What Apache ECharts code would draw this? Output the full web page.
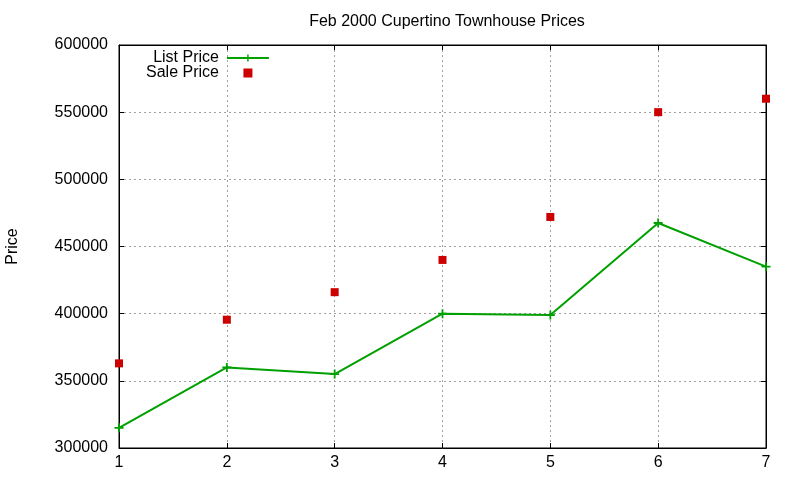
<!DOCTYPE html>
<html>
<head>
<meta charset="utf-8">
<script src="https://cdn.jsdelivr.net/npm/echarts@6/dist/echarts.min.js"></script>
<style>html,body{margin:0;padding:0;background:#fff;}#c{width:800px;height:480px;}</style>
</head>
<body>
<div id="c"></div>
<script>
var xValues = [1, 2, 3, 4, 5, 6, 7];
var listPrice = [315000, 360000, 355000, 400000, 399000, 467500, 435000];
var salePrice = [363000, 395500, 416000, 440000, 472000, 550000, 560000];
var titleText = 'Feb 2000 Cupertino Townhouse Prices';
var yName = 'Price';

var FONT = 'Liberation Sans, Arial, sans-serif';
var plus = 'path://M4,0 H6 V4 H10 V6 H6 V10 H4 V6 H0 V4 H4 Z';
var square = 'path://M0,0 H1 V1 H0 Z';
function pairs(xs, ys) { return xs.map(function (x, i) { return [x, ys[i]]; }); }

var chart = echarts.init(document.getElementById('c'), null, {renderer: 'canvas'});
var gridLine = {show: true, lineStyle: {color: '#a0a0a0', width: 1, type: [2, 3]}};
chart.setOption({
  animation: false,
  backgroundColor: '#fff',
  title: {text: titleText, left: 442, top: 9, textAlign: 'center',
    textStyle: {fontFamily: FONT, fontSize: 16, fontWeight: 'normal', color: '#000'}},
  grid: {left: 119, right: 34, top: 45, bottom: 32, show: true, borderColor: '#000', borderWidth: 1,
    backgroundColor: 'transparent', containLabel: false, outerBoundsMode: 'none'},
  legend: {
    orient: 'vertical', left: 141, top: 45, align: 'right',
    itemWidth: 42, itemHeight: 9, itemGap: -1, symbolKeepAspect: true,
    textStyle: {fontFamily: FONT, fontSize: 16, color: '#000', lineHeight: 16, padding: [0, 3, 0, 0]},
    data: ['List Price', {name: 'Sale Price', icon: square}]
  },
  xAxis: [{
    type: 'value', min: 1, max: 7, interval: 1,
    axisLine: {show: true, lineStyle: {color: '#000'}},
    axisTick: {show: true, inside: true, length: 5, lineStyle: {color: '#000'}},
    axisLabel: {fontFamily: FONT, fontSize: 16, color: '#000', margin: 7},
    splitLine: gridLine
  }, {
    type: 'value', min: 1, max: 7, interval: 1, position: 'top',
    axisLine: {show: true, lineStyle: {color: '#000'}},
    axisTick: {show: true, inside: true, length: 5, lineStyle: {color: '#000'}},
    axisLabel: {show: false}, splitLine: {show: false}
  }],
  yAxis: [{
    type: 'value', min: 300000, max: 600000, interval: 50000,
    name: yName, nameLocation: 'middle', nameGap: 98, nameRotate: 90,
    nameTextStyle: {fontFamily: FONT, fontSize: 16, color: '#000'},
    axisLine: {show: true, lineStyle: {color: '#000'}},
    axisTick: {show: true, inside: true, length: 5, lineStyle: {color: '#000'}},
    axisLabel: {fontFamily: FONT, fontSize: 16, color: '#000', margin: 11,
      formatter: function (v) { return String(v); }},
    splitLine: gridLine
  }, {
    type: 'value', min: 300000, max: 600000, interval: 50000, position: 'right',
    axisLine: {show: true, lineStyle: {color: '#000'}},
    axisTick: {show: true, inside: true, length: 5, lineStyle: {color: '#000'}},
    axisLabel: {show: false}, splitLine: {show: false}
  }],
  series: [{
    name: 'List Price', type: 'line', data: pairs(xValues, listPrice),
    symbol: plus, symbolSize: 9, showAllSymbol: true,
    lineStyle: {color: '#00a000', width: 2},
    itemStyle: {color: '#00a000'}
  }, {
    name: 'Sale Price', type: 'scatter', data: pairs(xValues, salePrice),
    symbol: 'rect', symbolSize: 8,
    itemStyle: {color: '#cc0000', opacity: 1}
  }]
});
</script>
</body>
</html>
